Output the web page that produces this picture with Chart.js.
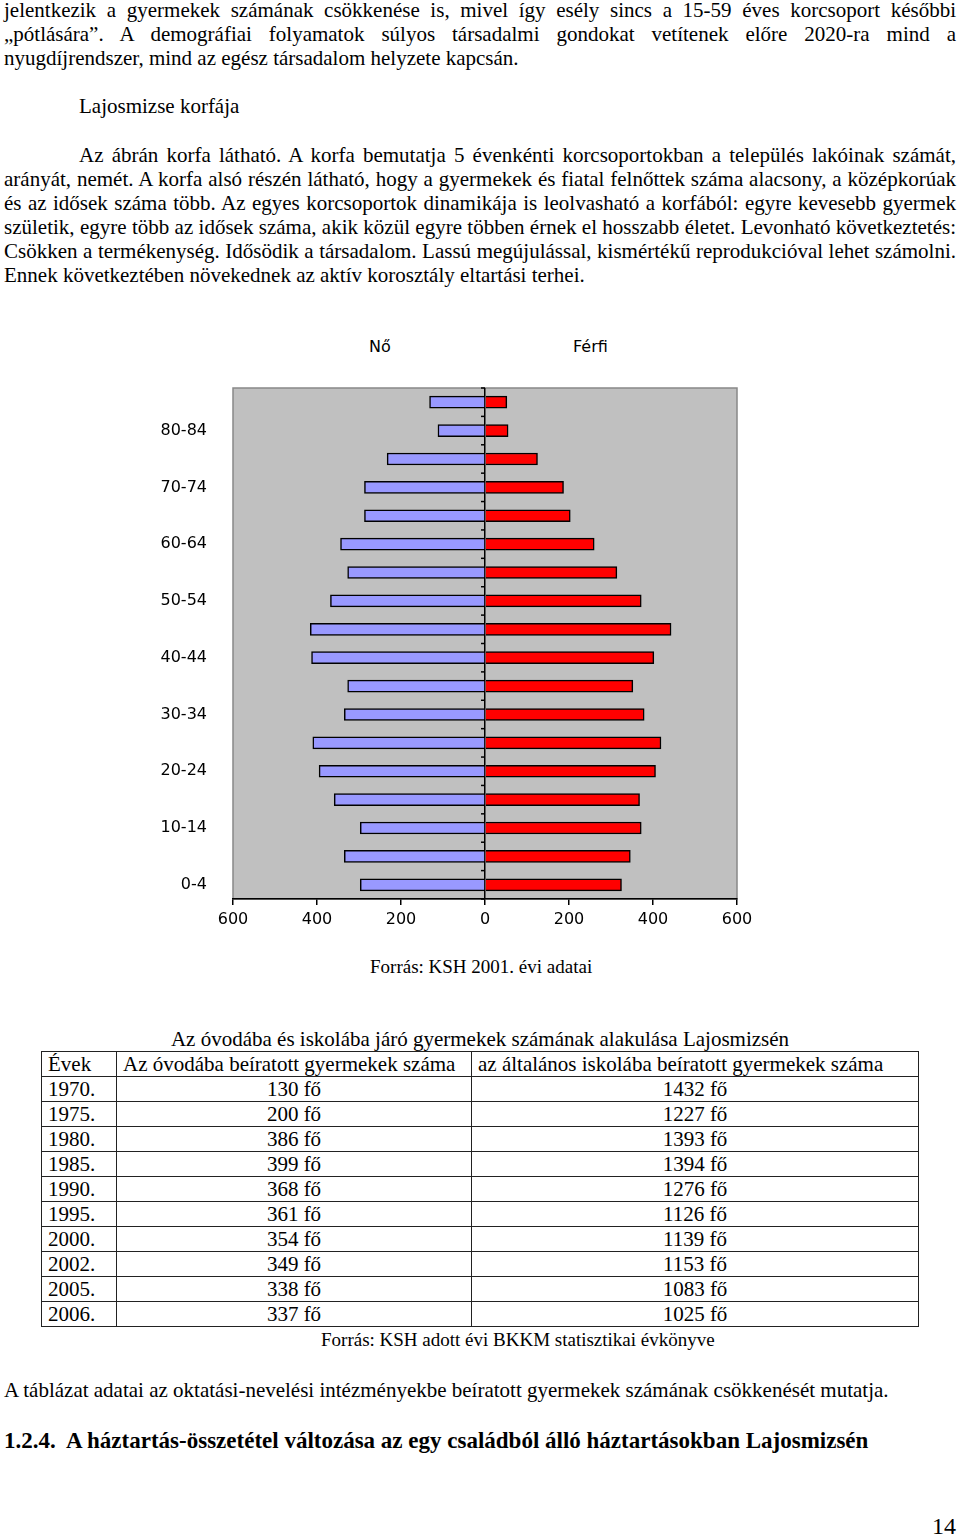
<!DOCTYPE html>
<html lang="hu">
<head>
<meta charset="utf-8">
<script src="https://cdn.jsdelivr.net/npm/chart.js"></script>
<style>
  body { margin: 0; background: #fff; width: 960px; height: 1537px; position: relative;
         font-family: "Liberation Serif", "Times New Roman", serif; font-size: 21px; color: #000; }
  .ln { position: absolute; left: 4px; width: 952px; line-height: 24px; white-space: normal; }
  .j { text-align: justify; text-align-last: justify; }
  .src { font-size: 19px; }
  .sans { position: absolute; font-family: "DejaVu Sans", Verdana, sans-serif; font-size: 16px; line-height: 18px; }
  #chartBox { position: absolute; left: 140px; top: 320px; width: 640px; height: 625px; }
  #tbl { position: absolute; left: 41px; top: 1051px; border-collapse: collapse; font-size: 21px; }
  #tbl td { border: 1.5px solid #222; height: 24px; line-height: 22px; padding: 0 6px; white-space: nowrap; }
  #tbl td.c { text-align: center; }
</style>
</head>
<body>

<div class="ln j" style="top:-2px">jelentkezik a gyermekek számának csökkenése is, mivel így esély sincs a 15-59 éves korcsoport későbbi</div>
<div class="ln j" style="top:22px">„pótlására”. A demográfiai folyamatok súlyos társadalmi gondokat vetítenek előre 2020-ra mind a</div>
<div class="ln" style="top:46px">nyugdíjrendszer, mind az egész társadalom helyzete kapcsán.</div>

<div class="ln" style="top:94px;left:79px">Lajosmizse korfája</div>

<div class="ln j" style="top:143px;left:79px;width:877px">Az ábrán korfa látható. A korfa bemutatja 5 évenkénti korcsoportokban a település lakóinak számát,</div>
<div class="ln j" style="top:167px">arányát, nemét. A korfa alsó részén látható, hogy a gyermekek és fiatal felnőttek száma alacsony, a középkorúak</div>
<div class="ln j" style="top:191px">és az idősek száma több. Az egyes korcsoportok dinamikája is leolvasható a korfából: egyre kevesebb gyermek</div>
<div class="ln j" style="top:215px">születik, egyre több az idősek száma, akik közül egyre többen érnek el hosszabb életet. Levonható következtetés:</div>
<div class="ln j" style="top:239px">Csökken a termékenység. Idősödik a társadalom. Lassú megújulással, kismértékű reprodukcióval lehet számolni.</div>
<div class="ln" style="top:263px">Ennek következtében növekednek az aktív korosztály eltartási terhei.</div>

<div class="sans" style="left:369px;top:338px">Nő</div>
<div class="sans" style="left:573px;top:338px">Férfi</div>

<div id="chartBox"><canvas id="korfa"></canvas></div>

<div class="ln src" style="top:955px;left:370px;width:auto">Forrás: KSH 2001. évi adatai</div>

<div class="ln" style="top:1027px;text-align:center;left:0;width:960px">Az óvodába és iskolába járó gyermekek számának alakulása Lajosmizsén</div>
<table id="tbl"></table>
<div class="ln src" style="top:1328px;left:321px;width:auto">Forrás: KSH adott évi BKKM statisztikai évkönyve</div>

<div class="ln" style="top:1378px">A táblázat adatai az oktatási-nevelési intézményekbe beíratott gyermekek számának csökkenését mutatja.</div>
<div class="ln" style="top:1429px;font-weight:bold;font-size:23px">1.2.4.&nbsp; A háztartás-összetétel változása az egy családból álló háztartásokban Lajosmizsén</div>

<div class="ln" style="top:1514px;left:932px;width:auto;font-size:24px">14</div>

<script>
// Korfa data (0-4 first, 85+ last)
const ageGroups = ["0-4", "5-9", "10-14", "15-19", "20-24", "25-29", "30-34", "35-39", "40-44",
  "45-49", "50-54", "55-59", "60-64", "65-69", "70-74", "75-79", "80-84", "85-"];
const female = [297, 335, 297, 359, 395, 410, 335, 327, 413, 416, 368, 327, 344, 287, 287, 233, 112, 132];
const male = [325, 346, 372, 368, 406, 419, 379, 352, 402, 443, 372, 314, 260, 203, 187, 125, 55, 52];
const xTicks = [-600, -400, -200, 0, 200, 400, 600];

// Table data
const years = ["1970.", "1975.", "1980.", "1985.", "1990.", "1995.", "2000.", "2002.", "2005.", "2006."];
const kindergarten = [130, 200, 386, 399, 368, 361, 354, 349, 338, 337];
const school = [1432, 1227, 1393, 1394, 1276, 1126, 1139, 1153, 1083, 1025];

// build the table
const tbl = document.getElementById("tbl");
let html = '<tr><td style="width:62px">Évek</td><td style="width:342px">Az óvodába beíratott gyermekek száma</td>' +
  '<td style="width:434px">az általános iskolába beíratott gyermekek száma</td></tr>';
years.forEach((y, i) => {
  html += `<tr><td>${y}</td><td class="c">${kindergarten[i]} fő</td><td class="c">${school[i]} fő</td></tr>`;
});
tbl.innerHTML = html;

// gray plot background + small ticks on the zero axis
const plotBg = {
  id: "plotBg",
  beforeDraw(chart) {
    const { ctx, chartArea: a } = chart;
    ctx.save();
    ctx.fillStyle = "#c0c0c0";
    ctx.fillRect(a.left, a.top, a.right - a.left, a.bottom - a.top);
    ctx.strokeStyle = "#888";
    ctx.lineWidth = 1.5;
    ctx.strokeRect(a.left, a.top, a.right - a.left, a.bottom - a.top);
    ctx.restore();
  },
  afterDatasetsDraw(chart) {
    const { ctx, chartArea: a, scales } = chart;
    const x0 = scales.x.getPixelForValue(0);
    const step = (a.bottom - a.top) / ageGroups.length;
    ctx.save();
    ctx.strokeStyle = "#000";
    ctx.lineWidth = 1.5;
    for (let i = 0; i <= ageGroups.length; i++) {
      const y = a.top + i * step;
      ctx.beginPath();
      ctx.moveTo(x0 - 4, y);
      ctx.lineTo(x0, y);
      ctx.stroke();
    }
    ctx.restore();
  }
};

const font = { family: "'DejaVu Sans', Verdana, sans-serif", size: 16 };

new Chart(document.getElementById("korfa"), {
  type: "bar",
  data: {
    labels: ageGroups,
    datasets: [{
      label: "Nő",
      data: female.map((v) => -v),
      backgroundColor: "#9999ff",
      borderColor: "#000",
      borderWidth: 1.5,
      barThickness: 12,
    }, {
      label: "Férfi",
      data: male,
      backgroundColor: "#ff0000",
      borderColor: "#000",
      borderWidth: 1.5,
      barThickness: 12,
    }],
  },
  options: {
    indexAxis: "y",
    responsive: true,
    maintainAspectRatio: false,
    animation: false,
    layout: { padding: { top: 68, right: 43, left: 0, bottom: 0 } },
    plugins: { legend: { display: false }, tooltip: { enabled: false } },
    scales: {
      x: {
        stacked: true,
        min: -600,
        max: 600,
        afterBuildTicks: (axis) => { axis.ticks = xTicks.map((v) => ({ value: v })); },
        afterFit: (axis) => { axis.height = 46; },
        ticks: { callback: (v) => Math.abs(v), color: "#000", font, padding: 5 },
        grid: {
          color: (c) => (c.tick && c.tick.value === 0 ? "#000" : "rgba(0,0,0,0)"),
          lineWidth: 1.5,
          tickColor: "#000",
          tickLength: 6,
        },
        border: { color: "#000", width: 1.5 },
      },
      y: {
        stacked: true,
        reverse: true,
        afterFit: (axis) => { axis.width = 93; },
        ticks: {
          autoSkip: false,
          color: "#000",
          font,
          padding: 18,
          callback: (v, i) => (i % 2 === 0 ? ageGroups[i] : ""),
        },
        grid: { display: false },
        border: { display: false },
      },
    },
  },
  plugins: [plotBg],
});
</script>
</body>
</html>
